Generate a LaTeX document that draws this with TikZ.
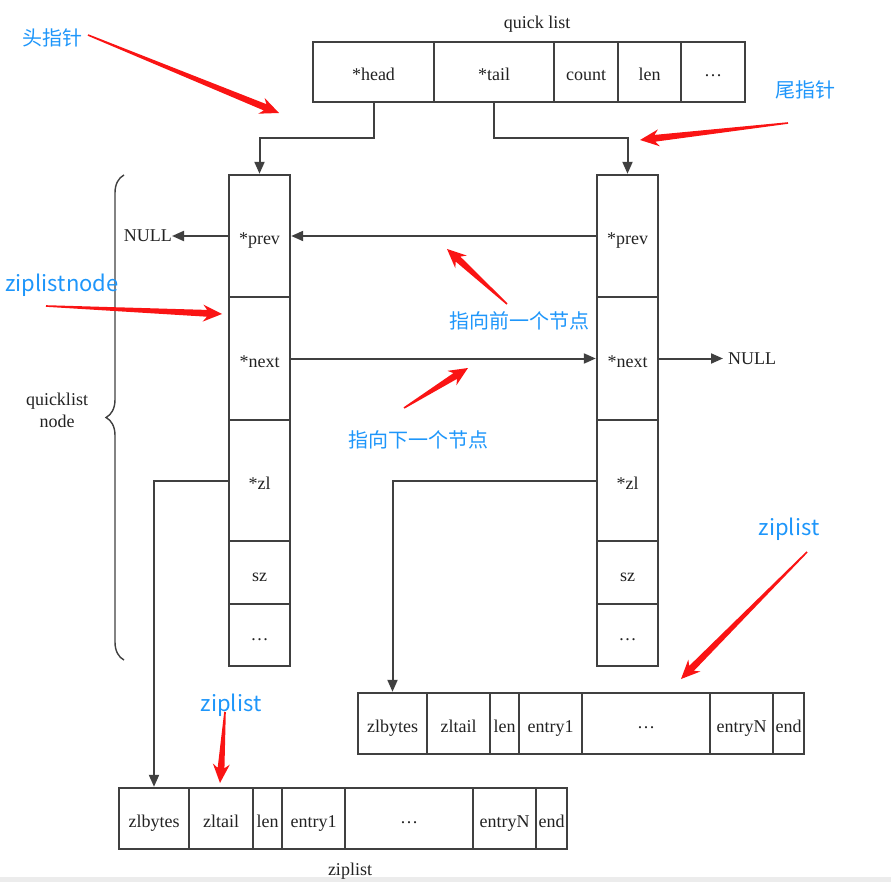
\documentclass[tikz,border=0pt]{standalone}
\usepackage{fontspec}
\setmainfont{Liberation Serif}
\newfontfamily\cjk{Noto Sans CJK SC}
\usetikzlibrary{calc,arrows.meta,decorations.pathreplacing}
\definecolor{ln}{RGB}{64,64,64}
\definecolor{tx}{RGB}{34,34,34}
\definecolor{anno}{RGB}{30,150,250}
\definecolor{arr}{RGB}{250,20,20}
\tikzset{
  cell/.style={draw=ln, line width=2.4pt, inner sep=0pt, text=tx, text height=18pt, text depth=0pt, font=\fontsize{18}{20}\selectfont},
  conn/.style={draw=ln, line width=2pt, -{Triangle[length=12pt,width=10pt]}},
  lbl/.style={text=tx, inner sep=0pt, font=\fontsize{18}{22}\selectfont},
  annot/.style={text=anno, inner sep=0pt, font=\cjk\fontsize{20}{24}\selectfont},
  annotl/.style={text=anno, inner sep=0pt, font=\cjk\fontsize{22}{24}\selectfont},
}
\newcommand\dotsx{\raisebox{4pt}{…}}
\newcommand\redarrow[2]{%
  \fill[arr] let \p1=(#1), \p2=(#2), \n1={atan2(\y1-\y2,\x1-\x2)} in
   (\p2) -- ($(\p2)+(\n1:19pt)+(\n1+90:8.5pt)$) -- ($(\p2)+(\n1:15pt)+(\n1+90:3.4pt)$)
   -- ($(\p1)+(\n1+90:0.8pt)$) -- ($(\p1)+(\n1-90:0.8pt)$)
   -- ($(\p2)+(\n1:15pt)+(\n1-90:3.4pt)$) -- ($(\p2)+(\n1:19pt)+(\n1-90:8.5pt)$) -- cycle;
}
\begin{document}
\begin{tikzpicture}[x=1pt,y=-1pt]
\useasboundingbox (0,0) rectangle (891,882);
\fill[gray!15] (0,877) rectangle (891,882);

% quick list header
\node[lbl] (qltitle) at (537,24) {quick list};
\node[cell, minimum width=121pt, minimum height=60pt] (head) at (373.5,72) {*head};
\node[cell, minimum width=120pt, minimum height=60pt] (tail) at (494,72) {*tail};
\node[cell, minimum width=64pt, minimum height=60pt] (count) at (586,72) {count};
\node[cell, minimum width=63pt, minimum height=60pt] (qlen) at (649.5,72) {len};
\node[cell, minimum width=64pt, minimum height=60pt] (qdots) at (713,72) {\dotsx};

% left quicklist node
\node[cell, minimum width=61pt, minimum height=122pt] (Lprev) at (259.5,236) {*prev};
\node[cell, minimum width=61pt, minimum height=123pt] (Lnext) at (259.5,358.5) {*next};
\node[cell, minimum width=61pt, minimum height=121pt] (Lzl) at (259.5,480.5) {*zl};
\node[cell, minimum width=61pt, minimum height=63pt] (Lsz) at (259.5,572.5) {sz};
\node[cell, minimum width=61pt, minimum height=62pt] (Ldots) at (259.5,635) {\dotsx};

% right quicklist node
\node[cell, minimum width=61pt, minimum height=122pt] (Rprev) at (627.5,236) {*prev};
\node[cell, minimum width=61pt, minimum height=123pt] (Rnext) at (627.5,358.5) {*next};
\node[cell, minimum width=61pt, minimum height=121pt] (Rzl) at (627.5,480.5) {*zl};
\node[cell, minimum width=61pt, minimum height=63pt] (Rsz) at (627.5,572.5) {sz};
\node[cell, minimum width=61pt, minimum height=62pt] (Rdots) at (627.5,635) {\dotsx};

% upper ziplist
\node[cell, minimum width=69pt, minimum height=61pt] (Aa) at (392.5,723.5) {zlbytes};
\node[cell, minimum width=63pt, minimum height=61pt] (Ab) at (458.5,723.5) {zltail};
\node[cell, minimum width=29pt, minimum height=61pt] (Ac) at (504.5,723.5) {len};
\node[cell, minimum width=63pt, minimum height=61pt] (Ad) at (550.5,723.5) {entry1};
\node[cell, minimum width=128pt, minimum height=61pt] (Ae) at (646,723.5) {\dotsx};
\node[cell, minimum width=63pt, minimum height=61pt] (Af) at (741.5,723.5) {entryN};
\node[cell, minimum width=31pt, minimum height=61pt] (Ag) at (788.5,723.5) {end};

% lower ziplist
\node[cell, minimum width=70pt, minimum height=61pt] (Ba) at (154,818.5) {zlbytes};
\node[cell, minimum width=64pt, minimum height=61pt] (Bb) at (221,818.5) {zltail};
\node[cell, minimum width=29pt, minimum height=61pt] (Bc) at (267.5,818.5) {len};
\node[cell, minimum width=63pt, minimum height=61pt] (Bd) at (313.5,818.5) {entry1};
\node[cell, minimum width=128pt, minimum height=61pt] (Be) at (409,818.5) {\dotsx};
\node[cell, minimum width=63pt, minimum height=61pt] (Bf) at (504.5,818.5) {entryN};
\node[cell, minimum width=31pt, minimum height=61pt] (Bg) at (551.5,818.5) {end};
\node[lbl] (zltitle) at (350,871) {ziplist};

% NULL labels
\node[lbl, anchor=east] (null1) at (172,236) {NULL};
\node[lbl, anchor=west] (null2) at (728,358.5) {NULL};

% brace and label
\draw[ln, line width=1.4pt, decorate, decoration={brace, amplitude=18pt}] (124,660) -- (124,175);
\node[lbl, align=center] (qln) at (57,410) {quicklist\\node};

% connectors
\coordinate (hb) at (373.5,138);
\coordinate (tb) at (494,138);
\draw[conn] (head.south) -- (hb) -| (Lprev.north);
\draw[conn] (tail.south) -- (tb) -| (Rprev.north);
\draw[conn] (Rprev.west) -- (Lprev.east);
\draw[conn] (Lprev.west) -- (null1.east);
\draw[conn] (Lnext.east) -- (Rnext.west);
\draw[conn] (Rnext.east) -- ([xshift=-5pt]null2.west);
\draw[conn] (Lzl.west) -| (Ba.north);
\draw[conn] (Rzl.west) -| (Aa.north);

% blue annotations
\node[annot] (t1) at (52,38) {头指针};
\node[annot] (t2) at (805,90) {尾指针};
\node[annotl] (t3) at (62,285) {ziplistnode};
\node[annot] (t4) at (519,321) {指向前一个节点};
\node[annot] (t5) at (418,440) {指向下一个节点};
\node[annotl] (t6) at (789,529) {ziplist};
\node[annotl] (t7) at (231,705) {ziplist};

% red arrows
\coordinate (r1s) at (88,35);   \coordinate (r1t) at (279,113);
\coordinate (r2s) at (788,123); \coordinate (r2t) at (640,140);
\coordinate (r3s) at (46,306);  \coordinate (r3t) at (222,314);
\coordinate (r4s) at (507,304); \coordinate (r4t) at (447,249);
\coordinate (r5s) at (404,408); \coordinate (r5t) at (468,368);
\coordinate (r6s) at (807,552); \coordinate (r6t) at (681,679);
\coordinate (r7s) at (225,712); \coordinate (r7t) at (220,783);
\redarrow{r1s}{r1t}
\redarrow{r2s}{r2t}
\redarrow{r3s}{r3t}
\redarrow{r4s}{r4t}
\redarrow{r5s}{r5t}
\redarrow{r6s}{r6t}
\redarrow{r7s}{r7t}
\end{tikzpicture}
\end{document}
